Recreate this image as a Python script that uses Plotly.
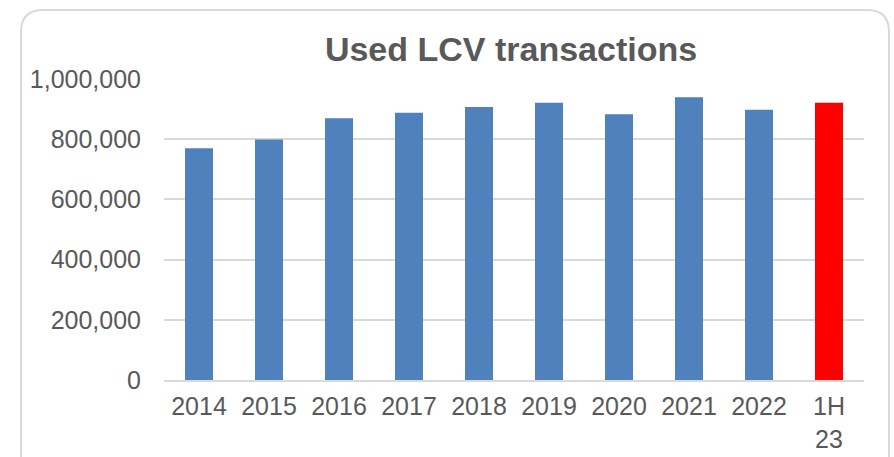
import plotly.graph_objects as go

categories = ["2014", "2015", "2016", "2017", "2018", "2019", "2020", "2021", "2022", "1H<br>23"]
values = [770000, 799000, 870000, 888000, 907000, 921000, 883000, 939000, 898000, 921000]
bar_colors = ["#4F81BD"] * 9 + ["#FF0000"]
y_ticks = [0, 200000, 400000, 600000, 800000, 1000000]
y_ticktext = ["0", "200,000", "400,000", "600,000", "800,000", "1,000,000"]

W, H = 894, 457
L, R, T, B = 164, 30, 79, 77
pw, ph = W - L - R, H - T - B

def px(x):
    return (x - L) / pw

def py(y):
    return (H - B - y) / ph

fig = go.Figure(go.Bar(x=categories, y=values, marker=dict(color=bar_colors, line=dict(width=0)),
                       hoverinfo="skip"))

# rounded border
x0, x1, y0, y1, r = 21, 889, 10, 470, 22
path = (f"M {px(x0+r)},{py(y0)} L {px(x1-r)},{py(y0)} "
        f"Q {px(x1)},{py(y0)} {px(x1)},{py(y0+r)} L {px(x1)},{py(y1)} "
        f"L {px(x0)},{py(y1)} L {px(x0)},{py(y0+r)} "
        f"Q {px(x0)},{py(y0)} {px(x0+r)},{py(y0)} Z")
fig.add_shape(type="path", path=path, xref="paper", yref="paper",
              line=dict(color="#D9D9D9", width=2), layer="below")

fig.update_layout(
    width=W, height=H,
    margin=dict(l=L, r=R, t=T, b=B, autoexpand=False),
    paper_bgcolor="white", plot_bgcolor="white",
    showlegend=False,
    bargap=0.6,
    title=dict(text="<b>Used LCV transactions</b>", x=(511) / W, xanchor="center",
               y=1 - 49 / H, yanchor="middle", xref="container", yref="container",
               font=dict(family="Liberation Sans, Arial, sans-serif", size=34, color="#595959")),
    font=dict(family="Liberation Sans, Arial, sans-serif", size=25, color="#595959"),
    xaxis=dict(type="category", showgrid=False, showline=True, linecolor="#D9D9D9", linewidth=2,
               ticks="", tickfont=dict(size=25, color="#595959"), ticklabelstandoff=3,
               fixedrange=True),
    yaxis=dict(range=[0, 1000000], tickvals=y_ticks, ticktext=y_ticktext,
               showgrid=True, gridcolor="#D9D9D9", gridwidth=2, zeroline=False,
               showline=False, ticks="", tickfont=dict(size=25, color="#595959"),
               ticklabelstandoff=22, fixedrange=True),
)

fig.write_html("out.html", config={"displayModeBar": False},
               post_script="document.body.style.margin='0';document.body.style.overflow='hidden';")
